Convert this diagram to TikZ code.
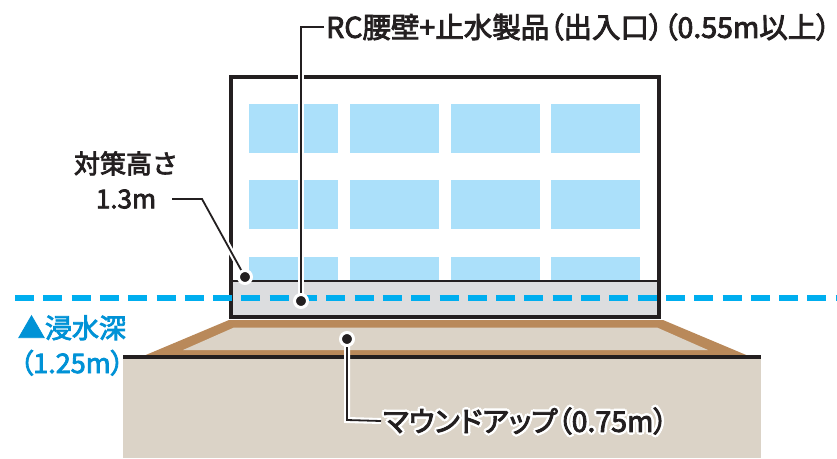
\documentclass[tikz,border=0pt]{standalone}
\usepackage{fontspec}
\setmainfont{Noto Sans CJK JP}
\newfontfamily\calloutfont[RawFeature=+palt, RawFeature={embolden=3}]{Noto Sans CJK JP}
\newfontfamily\plaincalloutfont[RawFeature={embolden=3}]{Noto Sans CJK JP}

\definecolor{ink}{RGB}{35,31,32}
\definecolor{water}{RGB}{0,174,239}
\definecolor{watertext}{RGB}{0,146,214}
\definecolor{glass}{RGB}{171,224,250}
\definecolor{wallband}{RGB}{220,221,223}
\definecolor{soil}{RGB}{219,211,199}
\definecolor{moundedge}{RGB}{185,137,90}

\tikzset{
  leader/.style = {draw = ink, line width = 1.8pt, preaction = {draw = white, line width = 6pt}},
  dot/.style = {circle, fill = ink, draw = white, line width = 3pt, inner sep = 0pt, minimum size = 13pt},
  callout/.style = {text = ink, inner sep = 2pt, font = \calloutfont\fontsize{28.5pt}{35pt}\selectfont},
  side callout/.style = {callout, align = center, font = \calloutfont\fontsize{27pt}{35pt}\selectfont},
}

\begin{document}
\begin{tikzpicture}[x = 1pt, y = -1pt]
    \useasboundingbox (0, 0) rectangle (837, 458);

    % ground and mound
    \fill[soil] (123, 357) rectangle (761, 458);
    \fill[moundedge] (141, 357) -- (229, 320) -- (663, 320) -- (751, 357) -- cycle;
    \fill[soil] (183, 350) -- (234, 327.5) -- (657, 327.5) -- (708, 350) -- cycle;
    \draw[ink, line width = 4pt] (123, 357) -- (761, 357);

    % building with windows and the wall band
    \fill[white] (231, 77) rectangle (659, 317);
    \foreach \col in {0, 1, 2, 3}
      \foreach \row in {0, 1, 2}
        \fill[glass] (249.3 + 100.7 * \col, 104 + 76.3 * \row) rectangle ++(89, 48.7);
    \fill[wallband] (231, 281) rectangle (659, 317);
    \draw[ink, line width = 1.5pt] (231, 281) -- (659, 281);
    \draw[ink, line width = 4pt] (231, 77) rectangle (659, 317);

    % flood level
    \coordinate (water left) at (15, 298);
    \coordinate (water right) at (837, 298);
    \draw[water, line width = 6pt, dash pattern = on 19pt off 9.3pt] (water left) -- (water right);

    % leaders
    \coordinate (height point) at (245, 277);
    \coordinate (wall point) at (301, 301);
    \coordinate (mound point) at (347, 339);
    \coordinate (height bend) at (202, 199);
    \coordinate (wall bend) at (301, 27);
    \coordinate (mound bend) at (347, 420);

    \node[callout, anchor = west] (wall label) at (324, 27) {RC腰壁+止水製品（出入口）（0.55m以上）};
    \node[side callout, font = \plaincalloutfont\fontsize{26pt}{35pt}\selectfont] (height label) at (126, 180) {対策高さ\\1.3m};
    \node[side callout, text = watertext] (water label) at (72, 345.5) {▲浸水深\\（1.25m）};
    % white rim round the mound text
    \foreach \a in {0, 45, ..., 315}
      \node[callout, anchor = west, text = white, shift = {(\a:2.5pt)}] (mound halo \a) at (381, 421) {マウンドアップ（0.75m）};
    \node[callout, anchor = west] (mound label) at (381, 421) {マウンドアップ（0.75m）};

    \draw[leader] (wall label.west) -- (wall bend) -- (wall point);
    \draw[leader] (172, 199) -- (height bend) -- (height point);
    \draw[leader] (mound point) -- (mound bend) -- (mound label.west);

    \node[dot] (height dot) at (height point) {};
    \node[dot] (wall dot) at (wall point) {};
    \node[dot] (mound dot) at (mound point) {};
\end{tikzpicture}
\end{document}
